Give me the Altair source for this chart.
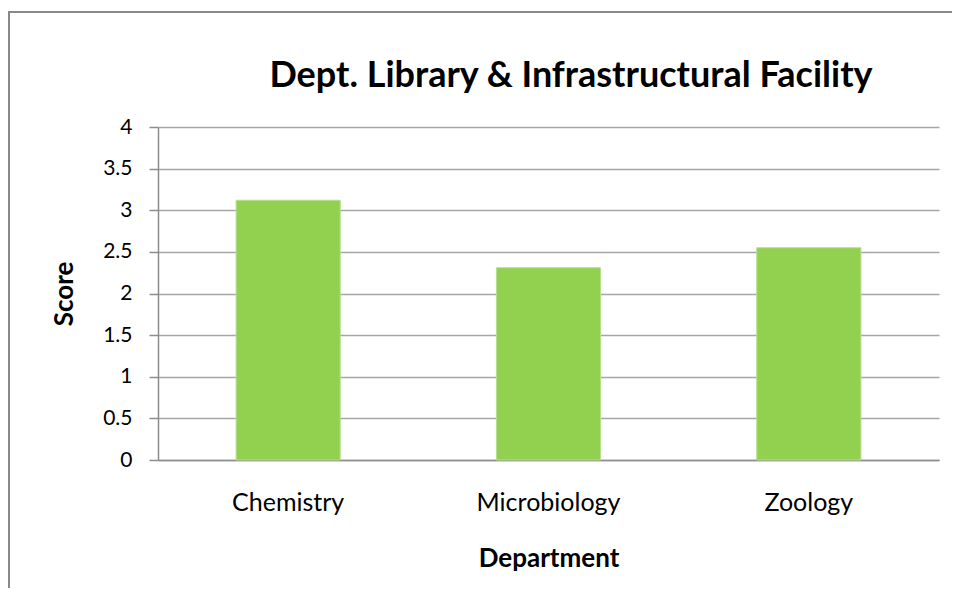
import altair as alt
import pandas as pd

departments = ["Chemistry", "Microbiology", "Zoology"]
scores = [3.12, 2.31, 2.55]
y_ticks = [0, 0.5, 1, 1.5, 2, 2.5, 3, 3.5, 4]
chart_title = "Dept. Library & Infrastructural Facility"

df = pd.DataFrame({"Department": departments, "Score": scores})

GREY = "#8c8c8c"
FONT = "Lato"

bars = alt.Chart(df).mark_bar(color="#92D050", stroke="#b5e08c", strokeWidth=1).encode(
    x=alt.X(
        "Department:N",
        sort=departments,
        scale=alt.Scale(paddingInner=0.6, paddingOuter=0.3),
        axis=alt.Axis(
            title="Department",
            labelAngle=0,
            labelFont=FONT,
            labelFontSize=25,
            labelColor="#000000",
            labelPadding=30,
            ticks=False,
            tickSize=0,
            domainColor=GREY,
            domainWidth=1.5,
            titleFont=FONT,
            titleFontSize=26,
            titleFontWeight="bold",
            titleColor="#000000",
            titlePadding=30,
        ),
    ),
    y=alt.Y(
        "Score:Q",
        scale=alt.Scale(domain=[0, 4], nice=False),
        axis=alt.Axis(
            title="Score",
            values=y_ticks,
            format="~g",
            labelFont=FONT,
            labelFontSize=21,
            labelColor="#000000",
            labelPadding=17,
            tickSize=9,
            tickColor=GREY,
            tickWidth=1.5,
            domainColor=GREY,
            domainWidth=1.5,
            gridColor="#a6a6a6",
            gridWidth=1.5,
            titleFont=FONT,
            titleFontSize=26,
            titleFontWeight="bold",
            titleColor="#000000",
            titlePadding=25,
        ),
    ),
)

frame = alt.Chart(alt.Data(values=[{"f": 1}])).mark_rect(
    filled=False, stroke="#888888", strokeWidth=2
).encode(
    x=alt.value(-149), x2=alt.value(820), y=alt.value(-115), y2=alt.value(480)
)

title_text = alt.Chart(alt.Data(values=[{"t": chart_title}])).mark_text(
    font=FONT, fontSize=36, fontWeight="bold", color="#000000",
    align="center", baseline="alphabetic",
).encode(
    text="t:N", x=alt.value(413), y=alt.value(-40)
)

chart = alt.layer(bars, frame, title_text).properties(
    width=781,
    height=333,
    autosize=alt.AutoSizeParams(type="none"),
    padding={"left": 150, "top": 119, "right": 13, "bottom": 128},
    background="#ffffff",
).configure_view(stroke=None)

chart.save("out.html", embed_options={"renderer": "svg", "actions": False})
